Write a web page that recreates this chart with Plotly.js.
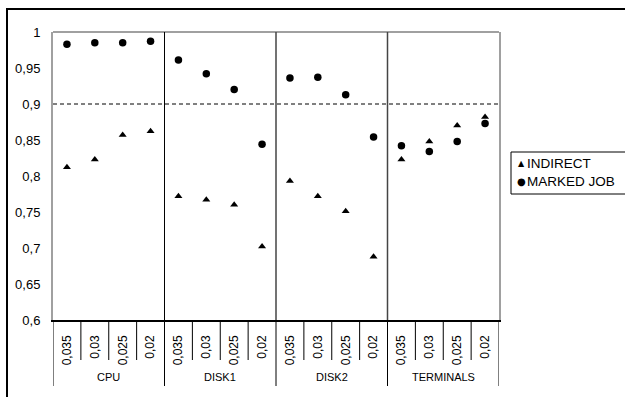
<!DOCTYPE html>
<html>
<head>
<meta charset="utf-8">
<script src="https://cdn.plot.ly/plotly-3.0.1.min.js"></script>
<style>html,body{margin:0;padding:0;background:#fff;}#chart{width:625px;height:397px;}</style>
</head>
<body>
<div id="chart"></div>
<script>
// ---- data ----
var groups = ['CPU', 'DISK1', 'DISK2', 'TERMINALS'];
var items = ['0,035', '0,03', '0,025', '0,02'];
var indirect = [0.812, 0.823, 0.857, 0.862,
                0.772, 0.767, 0.760, 0.702,
                0.793, 0.772, 0.751, 0.688,
                0.823, 0.848, 0.870, 0.882];
var markedJob = [0.983, 0.985, 0.985, 0.987,
                 0.961, 0.942, 0.920, 0.844,
                 0.936, 0.937, 0.913, 0.854,
                 0.842, 0.834, 0.848, 0.873];
var yTickVals = [0.6, 0.65, 0.7, 0.75, 0.8, 0.85, 0.9, 0.95, 1];
var yTickText = ['0,6', '0,65', '0,7', '0,75', '0,8', '0,85', '0,9', '0,95', '1'];
var threshold = 0.9;
var seriesNames = ['INDIRECT', 'MARKED JOB'];

// ---- derived positions ----
var nG = groups.length, nI = items.length;
var xs = [], xTickText = [];
for (var g = 0; g < nG; g++) {
  for (var i = 0; i < nI; i++) {
    xs.push(g * nI + i);
    xTickText.push(items[i]);
  }
}

var FONT = 'Liberation Sans, Arial, sans-serif';
var L = 53, R = 499, T = 32, B = 320, W = 625, H = 397;
function px(x) { return (x - L) / (R - L); }
function py(y) { return (B - y) / (B - T); }

var traces = [
  {x: xs, y: indirect, name: seriesNames[0], type: 'scatter', mode: 'markers',
   marker: {symbol: 'triangle-up', size: 7, color: '#000'}, cliponaxis: false},
  {x: xs, y: markedJob, name: seriesNames[1], type: 'scatter', mode: 'markers',
   marker: {symbol: 'circle', size: 7.5, color: '#000'}, cliponaxis: false}
];

var shapes = [];
// outer chart border
shapes.push({type: 'rect', xref: 'paper', yref: 'paper',
  x0: px(7), x1: px(640), y0: py(9), y1: py(410),
  line: {color: '#000', width: 2}, fillcolor: 'rgba(0,0,0,0)', layer: 'below'});
// top frame
shapes.push({type: 'line', xref: 'paper', yref: 'paper', x0: 0, x1: 1, y0: 1, y1: 1,
  line: {color: '#a0a0a0', width: 2}});
// threshold dashed line
shapes.push({type: 'line', xref: 'paper', yref: 'y', x0: 0, x1: 1, y0: threshold, y1: threshold,
  line: {color: '#000', width: 1, dash: '4px,3px'}});
// group separators
for (var b = 0; b <= nG; b++) {
  var xb = b * nI - 0.5;
  if (b > 0 && b < nG) {
    shapes.push({type: 'line', xref: 'x', yref: 'paper', x0: xb, x1: xb, y0: 1, y1: 0,
      line: {color: b === 1 ? '#000' : '#444', width: b === 1 ? 1 : 1.5}});
  }
  shapes.push({type: 'line', xref: 'x', yref: 'paper', x0: xb, x1: xb, y0: 0, y1: py(386),
    line: {color: '#000', width: 1}});
}
// item tick marks below axis
for (var g2 = 0; g2 < nG; g2++) {
  for (var k = 1; k < nI; k++) {
    var xt = g2 * nI + k - 0.5;
    shapes.push({type: 'line', xref: 'x', yref: 'paper', x0: xt, x1: xt, y0: 0, y1: py(360),
      line: {color: '#000', width: 1}});
  }
}
// legend box
shapes.push({type: 'rect', xref: 'paper', yref: 'paper',
  x0: px(511), x1: px(640), y0: py(152), y1: py(194),
  line: {color: '#000', width: 1}, fillcolor: '#fff'});

var annotations = [];
for (var g3 = 0; g3 < nG; g3++) {
  annotations.push({x: g3 * nI + (nI - 1) / 2, y: py(377), xref: 'x', yref: 'paper',
    text: groups[g3], showarrow: false, font: {family: FONT, size: 11, color: '#000'},
    xanchor: 'center', yanchor: 'middle'});
}
// legend entries
var legendSym = ['▲', '●'];
var legendSymSize = [8, 10];
var legendY = [163.5, 181.5];
for (var s = 0; s < seriesNames.length; s++) {
  annotations.push({x: px(521), y: py(legendY[s]), xref: 'paper', yref: 'paper',
    text: legendSym[s], showarrow: false, font: {family: 'DejaVu Sans', size: legendSymSize[s], color: '#000'},
    xanchor: 'center', yanchor: 'middle'});
  annotations.push({x: px(525), y: py(legendY[s]), xref: 'paper', yref: 'paper',
    text: seriesNames[s], showarrow: false, font: {family: FONT, size: 13.5, color: '#000'},
    xanchor: 'left', yanchor: 'middle'});
}

var layout = {
  width: W, height: H,
  margin: {l: L, r: W - R, t: T, b: H - B, pad: 0},
  paper_bgcolor: '#fff', plot_bgcolor: '#fff',
  showlegend: false,
  font: {family: FONT, color: '#000'},
  xaxis: {range: [-0.5, nG * nI - 0.5], tickmode: 'array', tickvals: xs, ticktext: xTickText,
    tickangle: -90, ticks: '', showgrid: false, zeroline: false,
    showline: true, linecolor: '#000', linewidth: 1.5,
    tickfont: {family: FONT, size: 12, color: '#000'}, ticklabelstandoff: 9, fixedrange: true},
  yaxis: {range: [0.6, 1], tickmode: 'array', tickvals: yTickVals, ticktext: yTickText,
    ticks: '', showgrid: false, zeroline: false,
    showline: true, linecolor: '#a0a0a0', linewidth: 2, mirror: true,
    tickfont: {family: FONT, size: 13, color: '#000'}, ticklabelstandoff: 8, fixedrange: true},
  shapes: shapes,
  annotations: annotations
};

Plotly.newPlot('chart', traces, layout, {staticPlot: true, displayModeBar: false});
</script>
</body>
</html>
